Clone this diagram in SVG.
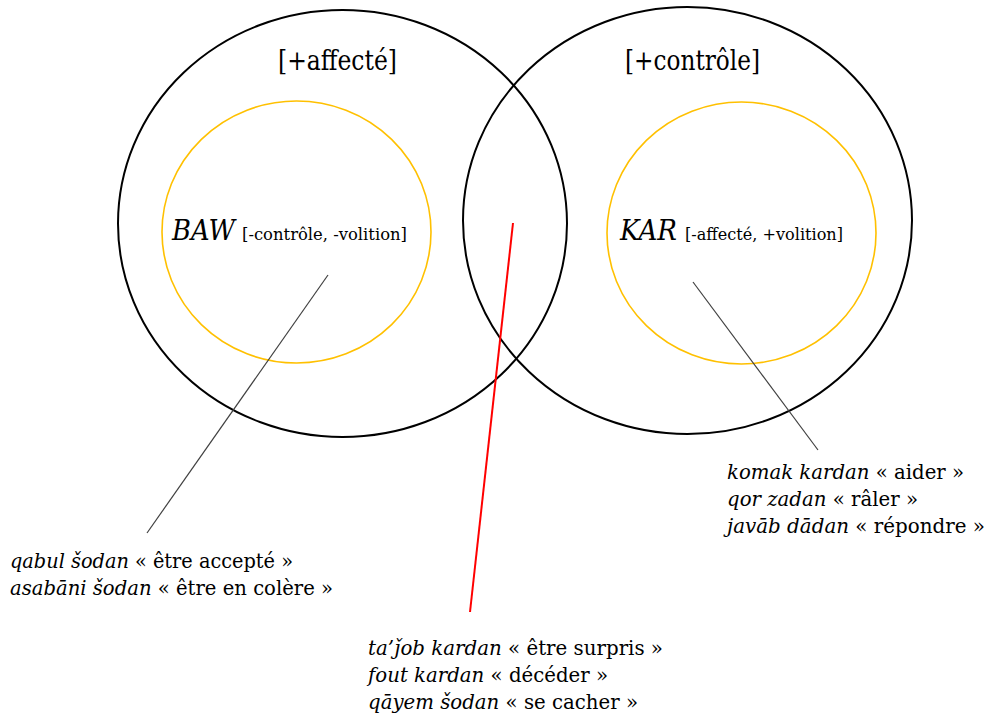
<svg xmlns="http://www.w3.org/2000/svg" width="988" height="720" viewBox="0 0 988 720">
<style>
.outer{fill:none;stroke:#000;stroke-width:2}
.inner{fill:none;stroke:#FFC000;stroke-width:1.6}
text{font-family:"DejaVu Serif","Liberation Serif",serif;fill:#000}
.big{font-size:27px}
.sm{font-size:17px}
.ex{font-size:20.5px}
.i{font-style:italic}
.lead{stroke:#404040;stroke-width:1.2;fill:none}
.red{stroke:#FF0000;stroke-width:2;fill:none}
</style>
<rect width="988" height="720" fill="#fff"/>
<g id="affecte">
<ellipse class="outer" cx="342.5" cy="223.5" rx="224.5" ry="213.5"/>
<text class="big" x="278" y="70" textLength="119" lengthAdjust="spacingAndGlyphs">[+affecté]</text>
</g>
<g id="controle">
<ellipse class="outer" cx="687.5" cy="220.5" rx="224.5" ry="213.5"/>
<text class="big" x="625" y="70" textLength="135" lengthAdjust="spacingAndGlyphs">[+contrôle]</text>
</g>
<g id="baw">
<ellipse class="inner" cx="296.5" cy="232" rx="134.5" ry="131"/>
<text class="big i" x="172" y="240" textLength="63" lengthAdjust="spacingAndGlyphs">BAW</text>
<text class="sm" x="242" y="240" textLength="165" lengthAdjust="spacingAndGlyphs">[-contrôle, -volition]</text>
</g>
<g id="kar">
<ellipse class="inner" cx="741.5" cy="233" rx="134.5" ry="131"/>
<text class="big i" x="620" y="240" textLength="57" lengthAdjust="spacingAndGlyphs">KAR</text>
<text class="sm" x="685" y="240" textLength="158" lengthAdjust="spacingAndGlyphs">[-affecté, +volition]</text>
</g>
<g id="connectors">
<line class="lead" x1="328" y1="275" x2="147" y2="533"/>
<line class="lead" x1="693" y1="282" x2="818" y2="450"/>
<line class="red" x1="513" y1="223" x2="470" y2="612"/>
</g>
<g id="ex-baw">
<text class="ex" x="10" y="568" textLength="283" lengthAdjust="spacingAndGlyphs"><tspan class="i">qabul šodan</tspan> « être accepté »</text>
<text class="ex" x="10" y="595" textLength="323" lengthAdjust="spacingAndGlyphs"><tspan class="i">asabāni šodan</tspan> « être en colère »</text>
</g>
<g id="ex-overlap">
<text class="ex" x="368" y="655" textLength="295" lengthAdjust="spacingAndGlyphs"><tspan class="i">ta’ǰob kardan</tspan> « être surpris »</text>
<text class="ex" x="368" y="682" textLength="240" lengthAdjust="spacingAndGlyphs"><tspan class="i">fout kardan</tspan> « décéder »</text>
<text class="ex" x="368" y="709" textLength="270" lengthAdjust="spacingAndGlyphs"><tspan class="i">qāyem šodan</tspan> « se cacher »</text>
</g>
<g id="ex-kar">
<text class="ex" x="727" y="479" textLength="237" lengthAdjust="spacingAndGlyphs"><tspan class="i">komak kardan</tspan> « aider »</text>
<text class="ex" x="727" y="506" textLength="191" lengthAdjust="spacingAndGlyphs"><tspan class="i">qor zadan</tspan> « râler »</text>
<text class="ex" x="727" y="533" textLength="258" lengthAdjust="spacingAndGlyphs"><tspan class="i">javāb dādan</tspan> « répondre »</text>
</g>
</svg>
